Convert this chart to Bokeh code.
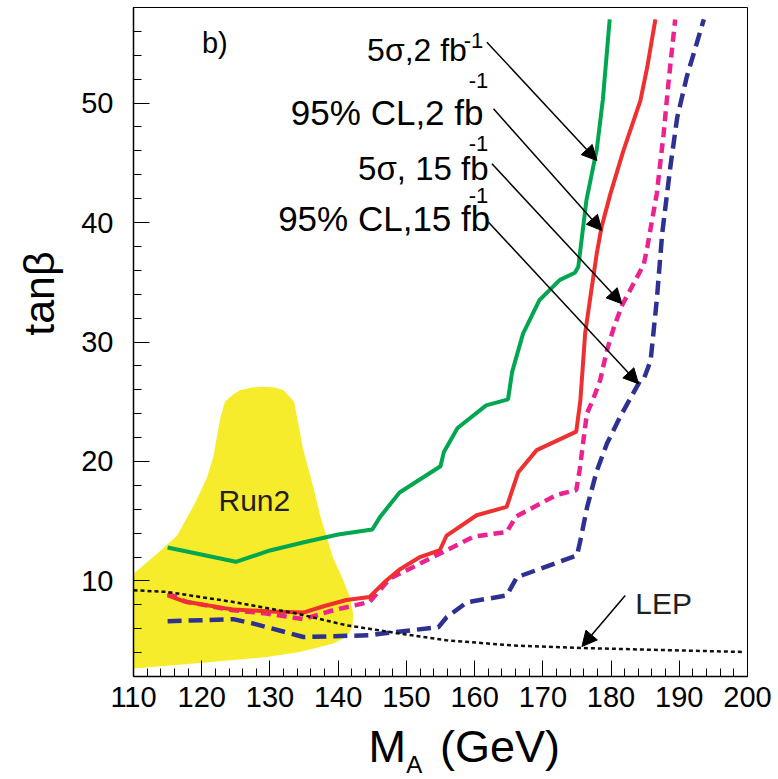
import math
from bokeh.plotting import figure
from bokeh.models import Label, Arrow, NormalHead, FixedTicker, Range1d
from bokeh.embed import file_html
from bokeh.resources import INLINE

# ---------------- data ----------------
run2_x = [110, 110, 113.5, 116.4, 119.0, 120.8, 121.7, 122.7, 123.4, 124.6, 125.6, 127.3, 129.0,
          130.7, 132.0, 133.4, 133.6, 134.8, 136.35, 137.3, 139.2, 140.75, 141.7, 142.2, 142.1,
          141.2, 139.3, 134.4, 129.5, 119.8, 110]
run2_y = [2.66, 10.6, 12.3, 13.8, 16.5, 18.7, 20.4, 23.6, 25.0, 25.6, 25.97, 26.2, 26.25,
          26.2, 25.97, 25.1, 24.85, 21.2, 17.87, 15.6, 12.0, 10.06, 8.66, 7.27, 6.15,
          5.31, 4.76, 4.05, 3.63, 3.13, 2.66]

green_x = [115, 125, 130, 135, 140, 145, 146.2, 149, 155, 155.5, 157.5, 161.7, 164.9, 165.5,
           167.1, 169.5, 172.5, 174.7, 175.2, 176.4, 177.9, 178.8, 179.8]
green_y = [12.8, 11.6, 12.55, 13.24, 13.89, 14.3, 15.4, 17.4, 19.6, 20.8, 22.8, 24.7, 25.2, 27.5,
           30.7, 33.5, 35.2, 35.8, 36.3, 41.9, 46.1, 50.3, 57.0]

red_x = [115, 117.3, 124.6, 130, 134.9, 138, 141.2, 144.6, 147.1, 149, 152, 154.9, 155.9, 160.3,
         164.7, 166.4, 169.1, 174.9, 175.5, 176.2, 176.9, 177.9, 178.6, 179.9, 181.8, 184.3,
         185.3, 186.5]
red_y = [8.8, 8.3, 7.6, 7.45, 7.35, 7.9, 8.4, 8.66, 10.06, 10.95, 12.0, 12.57, 13.8, 15.5,
         16.2, 19.1, 20.95, 22.5, 25.1, 30.7, 33.5, 37.4, 39.6, 42.4, 46.0, 50.2,
         53.0, 57.0]

magenta_x = [115, 117.8, 124.6, 129.5, 134.9, 139.3, 144.6, 147.6, 151, 155.4, 159.8, 164.7, 166.1,
             172, 174.9, 175.4, 176.45, 177.4, 178.4, 179.4, 180.4, 181.6, 184.8, 185.3, 186.7,
             187.7, 188.4, 189.4]
magenta_y = [8.95, 8.24, 7.55, 7.27, 6.8, 7.55, 8.24, 10.2, 11.17, 12.43, 13.7, 14.1, 15.4,
             17.2, 17.6, 19.3, 24.0, 25.25, 26.8, 29.3, 31.2, 33.06, 36.5, 37.9, 42.4,
             47.4, 51.6, 57.0]

blue_x = [115, 124.6, 127.6, 134.9, 139.3, 144.6, 146.2, 154.7, 155.9, 158.9, 164.7, 166.2, 175.0,
          175.5, 176.5, 177.9, 179.4, 181.3, 184.3, 184.8, 185.8, 186.7, 187.5, 188.7, 189.7,
          191.1, 193.6]
blue_y = [6.62, 6.8, 6.43, 5.31, 5.37, 5.45, 5.57, 6.13, 6.96, 8.22, 8.78, 10.31, 12.13,
          13.38, 16.2, 19.2, 21.5, 23.7, 26.8, 26.9, 28.45, 33.5, 39.1, 44.7, 48.8,
          52.2, 57.0]

lep_x = [110, 114.9, 124.6, 133.9, 141.2, 149, 155.9, 165.6, 175.4, 185.1, 199.5]
lep_y = [9.22, 9.08, 8.24, 7.27, 6.29, 5.6, 5.03, 4.6, 4.39, 4.25, 4.05]

x_ticks = list(range(110, 201, 10))
x_minor = list(range(110, 201, 2))
y_ticks = [10, 20, 30, 40, 50]
y_minor = list(range(2, 59, 2))

# annotation texts (right-aligned, baseline) and their superscripts
label_texts = ["5σ,2 fb", "95% CL,2 fb", "5σ, 15 fb", "95% CL,15 fb"]
label_x = [158.87, 161.30, 162.04, 162.29]
label_y = [54.46, 49.24, 44.50, 40.31]
label_size = ["32px", "35px", "33px", "35px"]
sup_x = [161.26, 162.0, 162.0, 162.0]
sup_y = [55.24, 51.89, 46.59, 42.27]
arrow_x0 = [161.80, 162.77, 162.54, 162.04, 182.08]
arrow_y0 = [55.10, 49.52, 44.92, 40.03, 8.78]
arrow_x1 = [177.93, 178.66, 181.59, 184.03, 175.73]
arrow_y1 = [45.19, 39.33, 33.20, 26.50, 4.51]

FONT = "Liberation Sans"

p = figure(width=778, height=779, x_range=Range1d(110, 200), y_range=Range1d(2, 58),
           output_backend="svg", toolbar_location=None,
           min_border_left=133, min_border_right=31, min_border_top=7, min_border_bottom=103)
p.xgrid.visible = False
p.ygrid.visible = False
p.outline_line_color = "black"
p.outline_line_width = 1
p.background_fill_color = "white"
p.border_fill_color = "white"

for ax, tk, mn in ((p.xaxis, x_ticks, x_minor), (p.yaxis, y_ticks, y_minor)):
    ax.ticker = FixedTicker(ticks=tk, minor_ticks=mn)
    ax.major_tick_in = 16
    ax.major_tick_out = 0
    ax.minor_tick_in = 8
    ax.minor_tick_out = 0
    ax.axis_line_color = "black"
    ax.axis_line_width = 1.5
    ax.major_tick_line_color = "black"
    ax.minor_tick_line_color = "black"
    ax.major_tick_line_width = 1
    ax.minor_tick_line_width = 1
    ax.major_label_text_font = FONT
    ax.major_label_text_font_size = "29px"
    ax.major_label_text_color = "black"
p.xaxis.major_label_standoff = 10
p.yaxis.major_label_standoff = 20

p.patch(run2_x, run2_y, fill_color="#F7EC2C", line_color=None)
p.line(blue_x, blue_y, line_color="#2E3192", line_width=4.5, line_dash="14 7")
p.line(magenta_x, magenta_y, line_color="#EC2290", line_width=4.5, line_dash="10 6")
p.line(red_x, red_y, line_color="#EE3030", line_width=4)
p.line(green_x, green_y, line_color="#00A650", line_width=4)
p.line(lep_x, lep_y, line_color="#111111", line_width=2.5, line_dash="4 3")

for t, x, y, s in zip(label_texts, label_x, label_y, label_size):
    p.add_layout(Label(x=x, y=y, text=t, text_font=FONT, text_font_size=s,
                       text_align="right", text_baseline="alphabetic", text_color="black"))
for x, y in zip(sup_x, sup_y):
    p.add_layout(Label(x=x, y=y, text="-1", text_font=FONT, text_font_size="22px",
                       text_align="right", text_baseline="alphabetic", text_color="black"))
for x0, y0, x1, y1 in zip(arrow_x0, arrow_y0, arrow_x1, arrow_y1):
    p.add_layout(Arrow(end=NormalHead(size=15, fill_color="black", line_color="black"),
                       x_start=x0, y_start=y0, x_end=x1, y_end=y1,
                       line_color="black", line_width=1.5))

p.add_layout(Label(x=120.03, y=54.99, text="b)", text_font=FONT, text_font_size="29px",
                   text_baseline="alphabetic", text_color="black"))
p.add_layout(Label(x=122.46, y=16.73, text="Run2", text_font=FONT, text_font_size="30px",
                   text_baseline="alphabetic", text_color="#231F20"))
p.add_layout(Label(x=183.54, y=8.09, text="LEP", text_font=FONT, text_font_size="30px",
                   text_baseline="alphabetic", text_color="#231F20"))

# axis titles, placed in side panels (one per panel so the frame keeps its size)
p.add_layout(Label(x=96.2, y=34.06, text="tanβ", text_font=FONT, text_font_size="43px",
                   angle=math.pi / 2, text_align="center", text_baseline="middle",
                   text_color="black"), "left")
p.add_layout(Label(x=144.45, y=-3.83, text="M\u00a0\u00a0\u2009(GeV)", text_font=FONT,
                   text_font_size="45px", text_baseline="middle", text_color="black"),
             "below")
p.add_layout(Label(x=149.97, y=-5.37, text="A", text_font=FONT, text_font_size="24px",
                   text_baseline="middle", text_color="black"), "right")

open("out.html", "w").write(file_html(p, INLINE))
